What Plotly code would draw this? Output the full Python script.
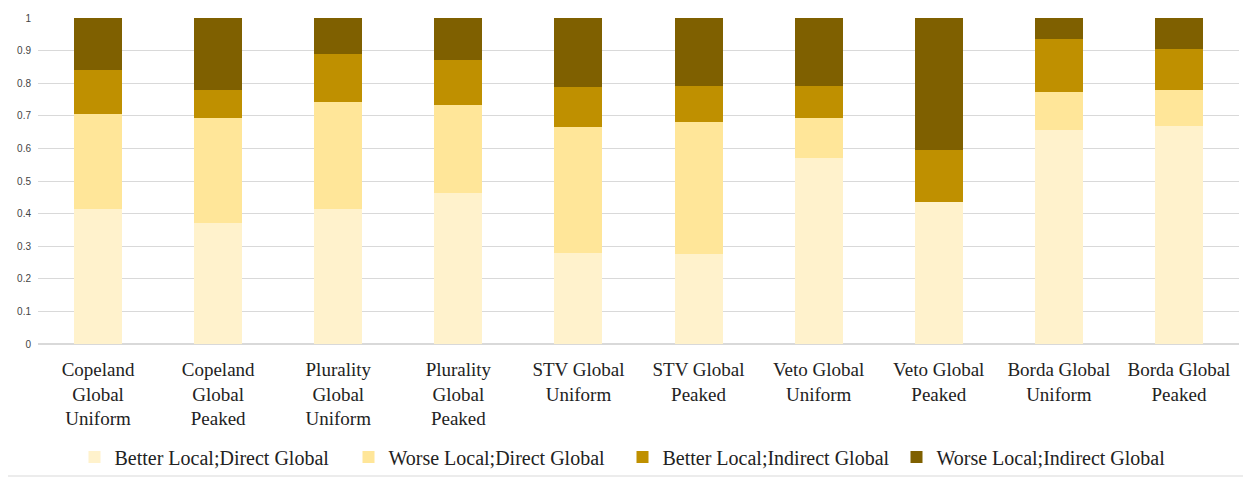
import plotly.graph_objects as go

categories = [
    "Copeland<br>Global<br>Uniform", "Copeland<br>Global<br>Peaked",
    "Plurality<br>Global<br>Uniform", "Plurality<br>Global<br>Peaked",
    "STV Global<br>Uniform", "STV Global<br>Peaked",
    "Veto Global<br>Uniform", "Veto Global<br>Peaked",
    "Borda Global<br>Uniform", "Borda Global<br>Peaked",
]

better_direct = [0.413, 0.371, 0.413, 0.462, 0.280, 0.276, 0.571, 0.436, 0.655, 0.670]
worse_direct = [0.294, 0.321, 0.328, 0.272, 0.386, 0.405, 0.121, 0.000, 0.117, 0.109]
better_indirect = [0.133, 0.087, 0.149, 0.136, 0.122, 0.109, 0.098, 0.158, 0.163, 0.125]
worse_indirect = [0.160, 0.221, 0.110, 0.130, 0.212, 0.210, 0.210, 0.406, 0.065, 0.096]

series = [
    ("Better Local;Direct Global", better_direct, "#FFF2CC"),
    ("Worse Local;Direct Global", worse_direct, "#FFE699"),
    ("Better Local;Indirect Global", better_indirect, "#BF9000"),
    ("Worse Local;Indirect Global", worse_indirect, "#7F6000"),
]

serif = "Liberation Serif"

fig = go.Figure()
for name, vals, col in series:
    fig.add_trace(go.Bar(x=categories, y=vals, name=name,
                         marker=dict(color=col, line=dict(width=0)),
                         width=0.4))

# page body has an 8px margin, so the figure is sized to fit inside it
fig.update_layout(
    barmode="stack",
    width=1235, height=473,
    margin=dict(l=30, r=4, t=10, b=137),
    paper_bgcolor="white", plot_bgcolor="white",
    font=dict(family=serif, size=20, color="#222222"),
    legend=dict(orientation="h", x=0.5 - 16 / 1201, xanchor="center", y=-0.347, yanchor="middle",
                font=dict(family=serif, size=20), traceorder="normal",
                itemwidth=30, entrywidth=229, bgcolor="rgba(0,0,0,0)"),
    xaxis=dict(tickfont=dict(family=serif, size=19), showgrid=False,
               showline=False, ticks="", automargin=False, ticklabelstandoff=12),
    yaxis=dict(range=[0, 1], tickvals=[0, 0.1, 0.2, 0.3, 0.4, 0.5, 0.6, 0.7, 0.8, 0.9, 1],
               ticktext=["0", "0.1", "0.2", "0.3", "0.4", "0.5", "0.6", "0.7", "0.8", "0.9", "1"],
               tickfont=dict(family="Liberation Sans", size=10, color="#444444"),
               gridcolor="#D9D9D9", gridwidth=1, zeroline=True, zerolinecolor="#D9D9D9",
               showline=False, ticklabelstandoff=6, automargin=False),
    shapes=[dict(type="rect", xref="paper", yref="paper",
                 x0=-33 / 1201, x1=1 + 6 / 1201, y0=-132 / 326, y1=1 + 14 / 326,
                 line=dict(color="#D9D9D9", width=1), layer="above")],
)

fig.write_html("out.html")
